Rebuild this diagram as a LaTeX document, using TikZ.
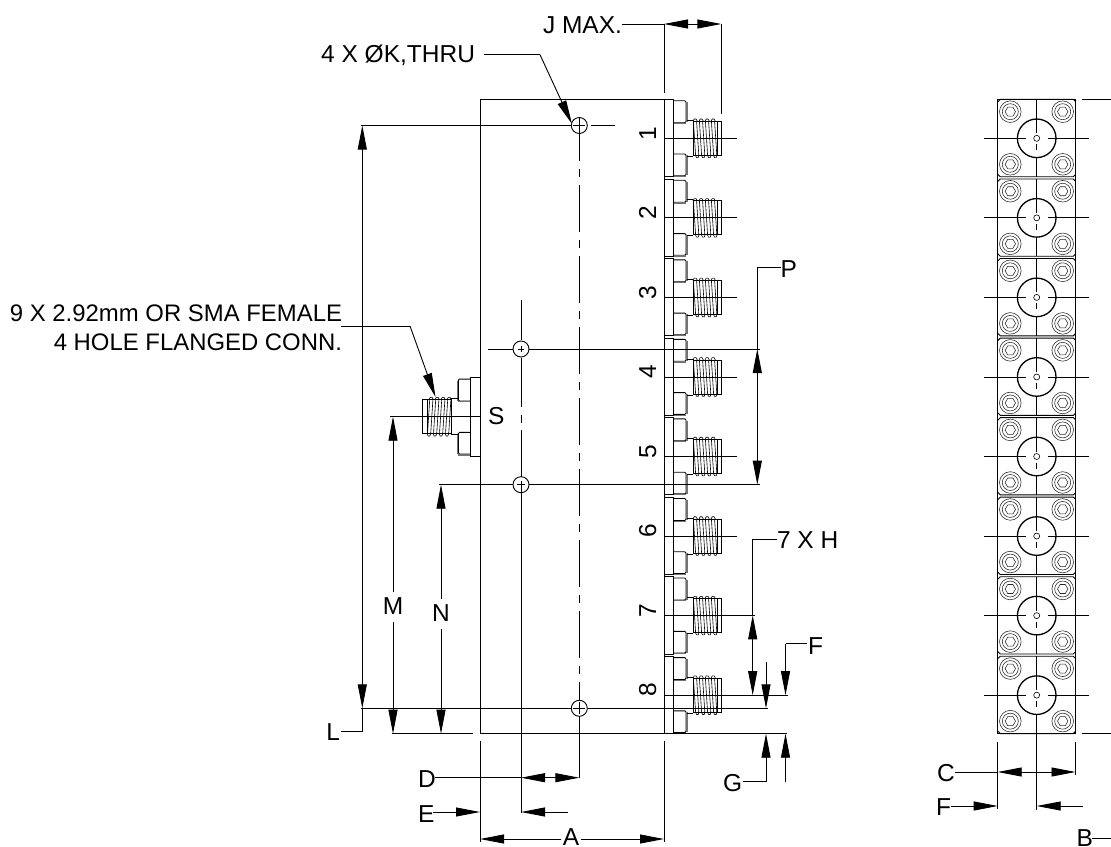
\documentclass[tikz,border=0pt]{standalone}
\usepackage{fontspec}
\setmainfont{Liberation Sans}
\usetikzlibrary{arrows.meta}
\tikzset{
  ln/.style={line width=0.9pt,black},
  thick2/.style={line width=1.3pt,black},
  thin2/.style={line width=0.6pt,black},
  bolt/.style={line width=0.55pt,black!85},
  shade2/.style={line width=1.2pt,black!55},
  arr/.style={ln,-{Triangle[length=24pt,width=9pt]}},
  lbl/.style={inner sep=0pt,outer sep=0pt,font=\fontsize{24.5}{24.5}\selectfont},
  lblb/.style={inner sep=0pt,outer sep=0pt,font=\fontsize{23.9}{24}\selectfont},
  cdash/.style={ln,dash pattern=on 47pt off 8pt on 8pt off 8pt},
}
\newcommand{\drawconn}{%
  % screw heads
  \draw[ln] (9.5,-37.6)--(20.8,-37.6)--(22,-36.4)--(22,-16.8)--(20.8,-15.6)--(9.5,-15.6);
  \draw[ln] (9.5,15.7)--(20.8,15.7)--(22,16.9)--(22,36.2)--(20.8,37.4)--(9.5,37.4);
  \draw[shade2] (23,-36)--(23,-16) (23,17)--(23,37) (10,38.2)--(22,38.2) (10,-14.9)--(22,-14.9);
  % neck
  \draw[ln] (22.6,-18)--(29,-18) (22.6,18)--(29,18);
  % thread
  \draw[ln] (29,-17.5)--(29,17.5);
  \draw[ln] (53,-17)rectangle(57.7,17);
  \foreach \k in {0,1,2,3}{
    \pgfmathsetmacro{\xa}{29+6*\k}
    \draw[thin2] (\xa,-17)--(\xa+1.2,-19.3)--(\xa+3,-19.3)--(\xa+4.4,-17);
    \draw[thin2] (\xa+2.4,17)--(\xa+3.6,19.3)--(\xa+5.2,19.3)--(\xa+6,17);
    \draw[thin2] (\xa+.4,-17)--(\xa+2.6,17);
    \draw[thin2] (\xa+3.6,-17)--(\xa+5.8,17);
  }
  \draw[ln] (29,-17)--(53,-17);
  \draw[ln] (29,17)--(53,17);
}
\begin{document}
\begin{tikzpicture}[x=1pt,y=-1pt]
\useasboundingbox (0,0) rectangle (1111,846);
\fill[white] (0,0) rectangle (1111,846);

% ---------- main body ----------
\draw[ln] (664,99.3)--(480,99.3)--(480,733.7)--(664,733.7);
\draw[ln] (664,99.3)--(664,733.7);

% output connectors and flanges
\foreach \i in {1,...,8}{
  \pgfmathsetmacro{\cy}{138.3+79.55*(\i-1)}
  \draw[ln] (664,\cy-38.9) rectangle (673.5,\cy+38.4);
  \begin{scope}[shift={(664,\cy)}]
    \drawconn
  \end{scope}
  \draw[ln] (664,\cy)--(736.7,\cy);
  \node[lbl,rotate=90,anchor=base] (d\i) at (656,\cy-5) {\i};
}

% input connector (left)
\draw[ln] (480,377.7)rectangle(470,456);
\begin{scope}[shift={(480.3,416.7)},xscale=-1]
  \drawconn
\end{scope}
\node[lbl,anchor=base west] (ls) at (488,424) {S};

% holes
\foreach \nm/\hx/\hy/\hr in {ha/579.3/125.5/6,hb/579.3/708.3/6,hc/521/349/3,hd/521/484.7/4}{
  \draw[ln] (\hx,\hy) circle (8);
  \draw[thin2] (\hx-\hr,\hy)--(\hx+\hr,\hy) (\hx,\hy-\hr)--(\hx,\hy+\hr);
}

% center lines
\draw[cdash,dash phase=3.3pt] (579.3,117)--(579.3,700);
\draw[ln] (579.3,716)--(579.3,777.7);
\draw[ln] (521,300)--(521,340) (521,358)--(521,406.7) (521,415)--(521,423) (521,430)--(521,477);
\draw[ln] (521,484.7)--(521,813);

% horizontal extension lines
\draw[ln] (360.5,125.5)--(571,125.5) (591,125.5)--(615,125.5);
\draw[ln] (488,349)--(513,349) (529,349)--(760,349);
\draw[ln] (439,484.7)--(513,484.7) (529,484.7)--(760,484.7);
\draw[ln] (360.5,708.3)--(571,708.3) (587.5,708.3)--(768,708.3);
\draw[ln] (391.7,733.7)--(473,733.7) (664,733.7)--(787,733.7);
\draw[ln] (390,416.7)--(480,416.7);
\draw[ln] (736,615.3)--(755,615.3);
\draw[ln] (736,695.2)--(788,695.2);

% extension lines body
\draw[ln] (480,741)--(480,842);
\draw[ln] (664,741)--(664,842);
\draw[ln] (664,24)--(664,92.7);
\draw[ln] (721.3,24)--(721.3,114);

% J MAX
\node[lbl,anchor=base east] (lj) at (622,33) {J MAX.};
\draw[ln] (lj.east |- 0,24)--(664,24);
\draw[arr] (690,24)--(664,24);
\draw[arr] (695,24)--(721.3,24);
\draw[ln] (686,24)--(698,24);

% 4 X
\node[lbl,anchor=base east] (lk) at (475,62) {4 X ØK,THRU};
\coordinate (ka) at (540,54.7);
\draw[ln] (484,54.7)--(ka);
\draw[arr] (ka)--(572,124);

% 9 X
\node[lblb,anchor=base east] (la) at (342,321.7) {9 X 2.92mm OR SMA FEMALE};
\node[lblb,anchor=base east] (lb) at (342,350) {4 HOLE FLANGED CONN.};
\coordinate (kb) at (410,326);
\draw[ln] (341,326)--(kb);
\draw[arr] (kb)--(435.5,397);

% L
\node[lbl,anchor=base east] (ll) at (340,740) {L};
\draw[arr] (362.3,600)--(362.3,125.5);
\draw[arr] (362.3,600)--(362.3,708.3);
\draw[ln] (362.3,708.3)--(362.3,731.5)--(341,731.5);

% M
\node[lbl,fill=white] (lm) at (393,606) {M};
\draw[arr] (393,592)--(393,416.7);
\draw[arr] (393,622)--(393,733.7);

% N
\node[lbl,fill=white] (ln2) at (441,613) {N};
\draw[arr] (441,599)--(441,484.7);
\draw[arr] (441,629)--(441,733.7);

% D
\node[lbl,anchor=base west] (ld) at (418,787) {D};
\draw[ln] (435,777.7)--(521,777.7);
\draw[arr] (550,777.7)--(521,777.7);
\draw[arr] (550,777.7)--(579.3,777.7);

% E
\node[lbl,anchor=base west] (le) at (418,822) {E};
\draw[arr] (433,812)--(480,812);
\draw[arr] (567.7,812)--(521,812);

% A
\node[lbl,anchor=base] (lao) at (571,845.5) {A};
\draw[arr] (561,839)--(480,839);
\draw[arr] (581,839)--(664,839);

% P
\node[lbl,anchor=base west] (lp) at (780.5,277.7) {P};
\draw[ln] (781,267.7)--(757.3,267.7)--(757.3,349);
\draw[arr] (757.3,420)--(757.3,349);
\draw[arr] (757.3,420)--(757.3,484.7);

% 7 X H
\node[lbl,anchor=base west] (lh) at (777,548) {7 X H};
\draw[ln] (776.7,539)--(752.7,539)--(752.7,615.3);
\draw[arr] (752.7,655)--(752.7,615.3);
\draw[arr] (752.7,655)--(752.7,695.2);

% F
\node[lbl,anchor=base west] (lf) at (808,654) {F};
\draw[arr] (785.5,643.7)--(785.5,695.2);
\draw[ln] (806.5,643.7)--(785.5,643.7);
\draw[arr] (766,661.7)--(766,708.3);

% G
\node[lbl,anchor=base west] (lg) at (723,791.5) {G};
\draw[arr] (766,781.7)--(766,733.7);
\draw[ln] (743,781.7)--(766,781.7);
\draw[arr] (785.5,781.7)--(785.5,733.7);

% ---------- right view ----------
\foreach \i in {1,...,8}{
  \pgfmathsetmacro{\cy}{138.3+79.55*(\i-1)}
  \begin{scope}[shift={(1036.7,\cy)}]
    \draw[ln] (-39.4,-35.9)--(-36.4,-38.9)--(36.6,-38.9)--(38.6,-36.9);
    \draw[ln] (-39.4,35.4)--(-36.4,38.4)--(36.6,38.4)--(38.6,36.4);
    \draw[thick2] (0,0) circle (19.3);
    \draw[thin2] (0,0) circle (3);
    \draw[ln] (-52.7,0)--(-10.7,0) (11,0)--(52.3,0);
    \draw[ln] (0,-38.9)--(0,-5) (0,6)--(0,12) (0,19.5)--(0,38.4);
    \foreach \dx/\dy in {-26.4/-26.6,26/-26.6,-26.4/26,26/26}{
      \draw[bolt] (\dx,\dy) circle (10.8);
      \draw[bolt] (\dx,\dy) circle (8);
      \draw[bolt] (\dx+5.2,\dy)--++(120:5.2)--++(180:5.2)--++(240:5.2)--++(300:5.2)--++(0:5.2)--cycle;
    }
  \end{scope}
}
\draw[thick2] (997.3,99.3)--(997.3,733.7)--(1075.3,733.7)--(1075.3,99.3)--cycle;
\draw[ln] (1081.7,99.3)--(1111,99.3);
\draw[ln] (1082,733.7)--(1111,733.7);
\draw[ln] (1036.7,733.7)--(1036.7,810);
\draw[ln] (997.7,741.7)--(997.7,809);
\draw[ln] (1075.5,741.7)--(1075.5,775);

\node[lbl,anchor=base west] (lc) at (937,781) {C};
\draw[arr] (1036.7,772)--(997.7,772);
\draw[arr] (1036.7,772)--(1075.5,772);
\draw[ln] (955,772)--(997.7,772);

\node[lbl,anchor=base west] (lf2) at (936,815) {F};
\draw[arr] (951,806)--(997.7,806);
\draw[arr] (1083,806)--(1036.7,806);

\node[lbl,anchor=base west] (lb2) at (1076.5,846) {B};
\draw[ln] (1092,838)--(1111,838);
\end{tikzpicture}
\end{document}
